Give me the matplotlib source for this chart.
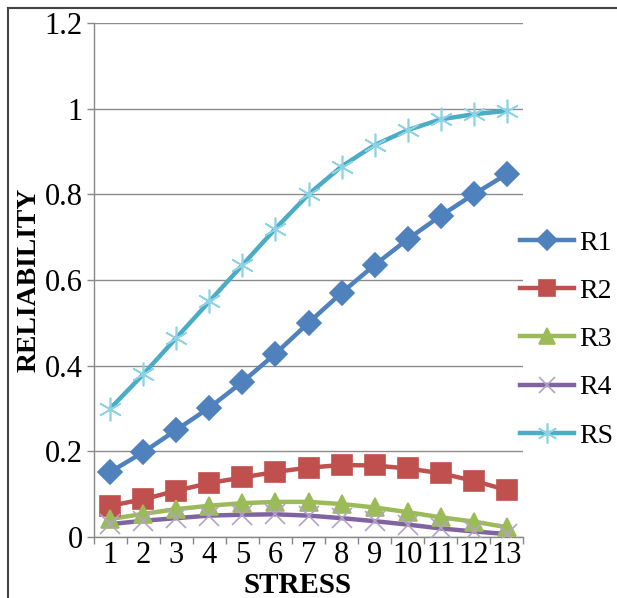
import numpy as np
import matplotlib.pyplot as plt
from matplotlib.lines import Line2D

plt.rcParams['font.family'] = ['Liberation Serif', 'DejaVu Serif']

stress = list(range(1, 14))
r1 = [0.152, 0.198, 0.250, 0.302, 0.362, 0.428, 0.500, 0.570, 0.635, 0.695, 0.750, 0.800, 0.847]
r2 = [0.073, 0.088, 0.108, 0.126, 0.139, 0.152, 0.162, 0.168, 0.167, 0.160, 0.149, 0.131, 0.110]
r3 = [0.042, 0.054, 0.065, 0.073, 0.079, 0.082, 0.082, 0.077, 0.069, 0.058, 0.046, 0.036, 0.023]
r4 = [0.030, 0.038, 0.044, 0.050, 0.052, 0.053, 0.050, 0.044, 0.037, 0.029, 0.020, 0.013, 0.007]
rs = [0.300, 0.380, 0.465, 0.550, 0.635, 0.720, 0.800, 0.865, 0.915, 0.950, 0.975, 0.987, 0.995]

names = ['R1', 'R2', 'R3', 'R4', 'RS']
series = [r1, r2, r3, r4, rs]
colors = ['#4F81BD', '#C0504D', '#9BBB59', '#8064A2', '#4BACC6']
markers = ['D', 's', '^', 'x', (6, 2, 0)]
msizes = [12, 14, 13, 14, 17]
mcolors = ['#4F81BD', '#C0504D', '#9BBB59', '#B3A2C7', '#8DD3E3']

fig = plt.figure(figsize=(6.17, 5.98), dpi=100)
ax = fig.add_axes([0.152, 0.102, 0.696, 0.8595])

handles = []
for name, vals, c, m, ms, mc in zip(names, series, colors, markers, msizes, mcolors):
    ax.plot(stress, vals, color=c, lw=3.2, zorder=3)
    ax.plot(stress, vals, ls='none', marker=m, ms=ms, color=mc, mec=mc, mew=1.2, zorder=4)
    handles.append(Line2D([], [], color=c, lw=3.2, marker=m, ms=ms * 0.85, mfc=mc, mec=mc, mew=1.2))

ax.set_xlim(0.5, 13.5)
ax.set_ylim(0, 1.2)
ax.set_yticks(np.arange(0, 1.21, 0.2))
ax.set_yticklabels(['0', '0.2', '0.4', '0.6', '0.8', '1', '1.2'])
ax.set_xticks(stress)
ax.set_xticks(np.arange(0.5, 13.6, 1), minor=True)
ax.tick_params(axis='x', which='major', length=0, labelsize=22, pad=3)
ax.tick_params(axis='x', which='minor', length=5, color='#888888', width=1)
ax.tick_params(axis='y', length=5, color='#888888', width=1, labelsize=22, pad=3)
ax.grid(axis='y', color='#8c8c8c', lw=1, zorder=0)

for side in ['top', 'right']:
    ax.spines[side].set_visible(False)
for side in ['left', 'bottom']:
    ax.spines[side].set_color('#888888')
    ax.spines[side].set_linewidth(1)

ax.set_xlabel('STRESS', fontsize=21, fontweight='bold')
ax.xaxis.set_label_coords(0.475, -0.068)
ax.set_ylabel('RELIABILITY', fontsize=20, fontweight='bold', labelpad=2)

fig.legend(handles, names, loc='upper left', bbox_to_anchor=(0.843, 0.615),
           frameon=False, fontsize=20, handlelength=1.95, handletextpad=0.18,
           labelspacing=0.82, borderpad=0, borderaxespad=0)

# frame around the chart area (cropped at right and bottom)
fig.add_artist(Line2D([0.013, 0.013], [0, 0.986], color='#444444', lw=1.5, transform=fig.transFigure))
fig.add_artist(Line2D([0.013, 1], [0.986, 0.986], color='#444444', lw=1.5, transform=fig.transFigure))

fig.savefig('out.png', dpi=100)
